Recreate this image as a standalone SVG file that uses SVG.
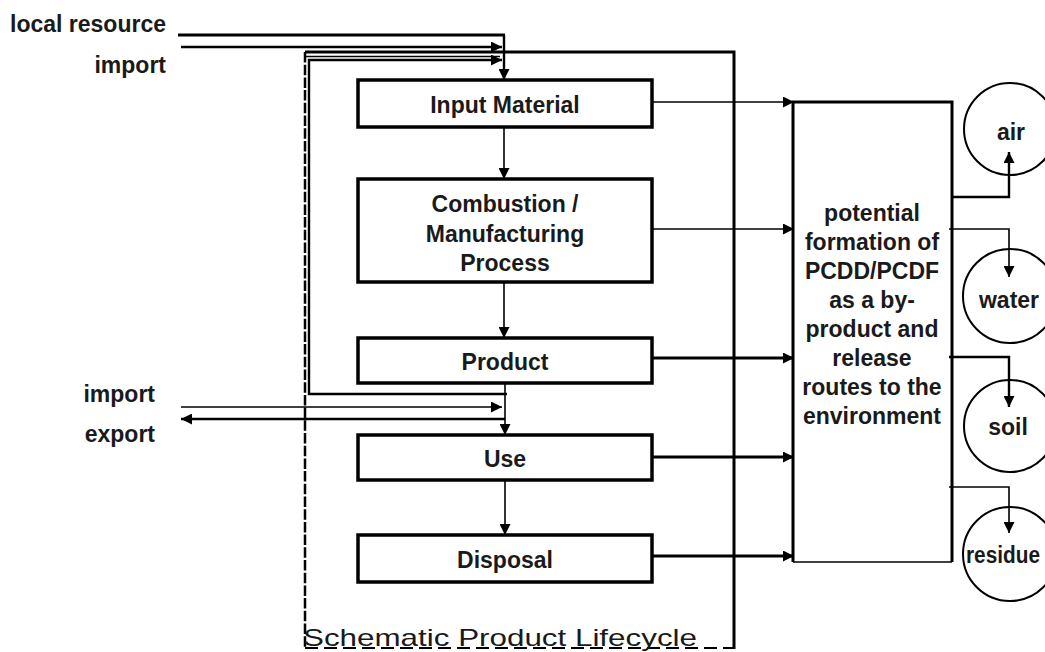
<svg xmlns="http://www.w3.org/2000/svg" width="1045" height="652" viewBox="0 0 1045 652">
<style>
text{font-family:"Liberation Sans",Arial,sans-serif;font-size:23px;font-weight:bold;fill:#1a1a1a}
.c{text-anchor:middle}
.e{text-anchor:end}
.box{fill:#fff;stroke:#000;stroke-width:3.5}
.ln{fill:none;stroke:#000;stroke-linejoin:miter;stroke-linecap:butt}
.t1{stroke-width:1.6}
.t2{stroke-width:2.4}
.t3{stroke-width:3}
.circ{fill:none;stroke:#000;stroke-width:2}
</style>
<defs>
<marker id="ah" viewBox="0 0 10 10" refX="10" refY="5" markerWidth="11" markerHeight="11" markerUnits="userSpaceOnUse" orient="auto">
<path d="M0,0 L10,5 L0,10 z" fill="#000"/>
</marker>
</defs>
<rect width="1045" height="652" fill="#fff"/>

<g id="lifecycle-frame">
<path class="ln t3" d="M305,52 H734 V649"/>
<path class="ln" stroke-width="2.5" stroke-dasharray="10.5,2.2" d="M305,52 V649"/>
<path class="ln" stroke-width="2" stroke-dasharray="13,6" d="M305,648 H734"/>
<text x="303" y="646" textLength="394" lengthAdjust="spacingAndGlyphs" style="font-weight:normal;font-size:24px">Schematic Product Lifecycle</text>
</g>

<g id="labels">
<text class="e" x="166" y="32">local resource</text>
<text class="e" x="166" y="73">import</text>
<text class="e" x="155" y="402">import</text>
<text class="e" x="155" y="442">export</text>
</g>

<g id="air">
<circle class="circ" cx="1010" cy="129" r="46"/>
<text class="c" x="1011" y="140">air</text>
</g>
<g id="water">
<circle class="circ" cx="1010" cy="296" r="47"/>
<text class="c" x="1009" y="308">water</text>
</g>
<g id="soil">
<circle class="circ" cx="1010" cy="426" r="46"/>
<text class="c" x="1008" y="435">soil</text>
</g>
<g id="residue">
<circle class="circ" cx="1010" cy="554" r="47"/>
<text class="c" x="1003" y="563" textLength="74" lengthAdjust="spacingAndGlyphs">residue</text>
</g>

<g id="connectors">
<path class="ln t3" d="M178,35 H505"/>
<path class="ln t2" d="M504,35 V80" marker-end="url(#ah)"/>
<path class="ln t2" d="M181,47 H502" marker-end="url(#ah)"/>
<path class="ln t1" d="M305,56.5 H500"/>
<path class="ln t2" d="M507,394 H309 V60 H502" marker-end="url(#ah)"/>
<path class="ln t1" d="M504,127 V179" marker-end="url(#ah)"/>
<path class="ln t1" d="M504,282 V338" marker-end="url(#ah)"/>
<path class="ln t1" d="M505,383 V435" marker-end="url(#ah)"/>
<path class="ln t1" d="M505,480 V535" marker-end="url(#ah)"/>
<path class="ln t1" d="M181,407 H502" marker-end="url(#ah)"/>
<path class="ln t2" d="M505,419 H181" marker-end="url(#ah)"/>
<path class="ln t1" d="M652,102 H794" marker-end="url(#ah)"/>
<path class="ln t1" d="M652,229 H794" marker-end="url(#ah)"/>
<path class="ln t3" d="M652,358 H794" marker-end="url(#ah)"/>
<path class="ln t3" d="M652,457 H794" marker-end="url(#ah)"/>
<path class="ln t3" d="M652,556 H794" marker-end="url(#ah)"/>
<path class="ln t2" d="M952,197 H1009 V152" marker-end="url(#ah)"/>
<path class="ln t1" d="M949,229 H1009 V277" marker-end="url(#ah)"/>
<path class="ln t2" d="M949,357 H1009 V407" marker-end="url(#ah)"/>
<path class="ln t1" d="M949,487 H1009 V533" marker-end="url(#ah)"/>
</g>

<g id="input-material">
<rect class="box" x="358" y="80" width="294" height="47"/>
<text class="c" x="505" y="113">Input Material</text>
</g>
<g id="combustion">
<rect class="box" x="358" y="179" width="294" height="103"/>
<text class="c" x="505" y="212">Combustion /</text>
<text class="c" x="505" y="242">Manufacturing</text>
<text class="c" x="505" y="271">Process</text>
</g>
<g id="product">
<rect class="box" x="358" y="338" width="294" height="45"/>
<text class="c" x="505" y="370">Product</text>
</g>
<g id="use">
<rect class="box" x="358" y="435" width="294" height="45"/>
<text class="c" x="505" y="467">Use</text>
</g>
<g id="disposal">
<rect class="box" x="358" y="535" width="294" height="47"/>
<text class="c" x="505" y="568">Disposal</text>
</g>

<g id="formation">
<path class="ln t3" d="M793,100.5 V562 M791.5,102 H952 V562"/>
<path class="ln t1" d="M793,562 H952"/>
<text class="c" x="872" y="221">potential</text>
<text class="c" x="872" y="250">formation of</text>
<text class="c" x="872" y="279">PCDD/PCDF</text>
<text class="c" x="872" y="308">as a by-</text>
<text class="c" x="872" y="337">product and</text>
<text class="c" x="872" y="366">release</text>
<text class="c" x="872" y="395">routes to the</text>
<text class="c" x="872" y="424">environment</text>
</g>
</svg>
